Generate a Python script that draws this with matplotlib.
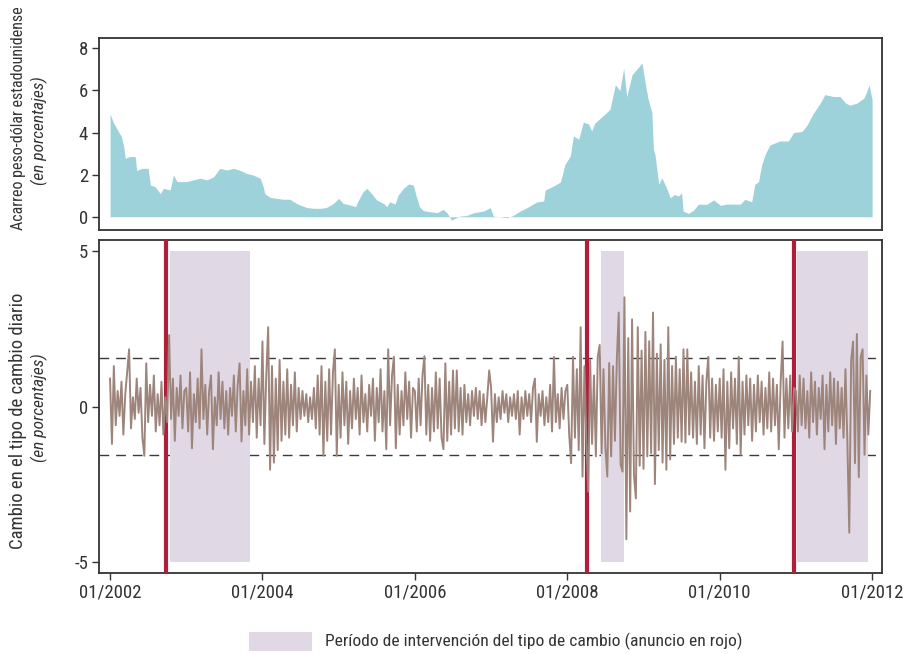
import matplotlib
matplotlib.use("Agg")
import matplotlib.pyplot as plt
import numpy as np
from matplotlib.patches import Rectangle
from matplotlib import font_manager

# fuente estrecha si existe alguna instalada
_fuentes = font_manager.fontManager.ttflist
_nombres = {f.name for f in _fuentes}
estrecha = None
for nombre in ['Liberation Sans Narrow', 'Roboto Condensed', 'Open Sans Condensed']:
    if nombre in _nombres:
        estrecha = (nombre, 'normal')
        break
if estrecha is None:
    for f in _fuentes:
        if f.name == 'DejaVu Sans' and f.stretch in ('condensed', 'semi-condensed', 575, 500):
            estrecha = ('DejaVu Sans', 'condensed')
            break
if estrecha is None:
    estrecha = ('Liberation Sans', 'normal')

plt.rcParams['font.family'] = [estrecha[0], 'DejaVu Sans']
plt.rcParams['font.stretch'] = estrecha[1]
plt.rcParams['axes.unicode_minus'] = False

# acarreo peso-dolar (fecha en anios decimales, valor en %)
acarreo_fecha = [2002.0, 2002.04, 2002.11, 2002.15, 2002.18, 2002.20, 2002.26, 2002.33, 2002.35, 2002.42,
                 2002.50, 2002.53, 2002.59, 2002.66, 2002.70, 2002.79, 2002.83, 2002.88, 2003.01, 2003.09,
                 2003.18, 2003.27, 2003.36, 2003.44, 2003.53, 2003.62, 2003.71, 2003.79, 2003.88, 2003.97,
                 2004.01, 2004.03, 2004.10, 2004.19, 2004.27, 2004.36, 2004.41, 2004.49, 2004.58, 2004.67,
                 2004.76, 2004.84, 2004.93, 2005.00, 2005.06, 2005.15, 2005.22, 2005.26, 2005.32, 2005.37,
                 2005.43, 2005.50, 2005.59, 2005.63, 2005.67, 2005.74, 2005.78, 2005.85, 2005.92, 2005.98,
                 2006.02, 2006.06, 2006.11, 2006.20, 2006.29, 2006.37, 2006.42, 2006.48, 2006.59, 2006.68,
                 2006.77, 2006.90, 2006.99, 2007.03, 2007.21, 2007.29, 2007.38, 2007.47, 2007.60, 2007.69,
                 2007.71, 2007.82, 2007.91, 2007.97, 2008.04, 2008.08, 2008.15, 2008.21, 2008.28, 2008.32,
                 2008.36, 2008.47, 2008.56, 2008.63, 2008.69, 2008.74, 2008.78, 2008.85, 2008.91, 2008.98,
                 2009.02, 2009.06, 2009.11, 2009.13, 2009.15, 2009.20, 2009.24, 2009.31, 2009.35, 2009.41,
                 2009.46, 2009.50, 2009.52, 2009.59, 2009.66, 2009.72, 2009.83, 2009.92, 2010.01, 2010.09,
                 2010.18, 2010.27, 2010.33, 2010.42, 2010.46, 2010.51, 2010.55, 2010.60, 2010.66, 2010.79,
                 2010.90, 2010.97, 2011.08, 2011.14, 2011.23, 2011.32, 2011.38, 2011.49, 2011.58, 2011.65,
                 2011.71, 2011.80, 2011.89, 2011.93, 2011.96, 2012.0]
acarreo = [4.9, 4.5, 4.05, 3.8, 3.33, 2.78, 2.86, 2.86, 2.2, 2.3,
           2.3, 1.5, 1.43, 1.1, 1.35, 1.27, 1.98, 1.67, 1.67, 1.75,
           1.83, 1.75, 1.9, 2.3, 2.22, 2.3, 2.2, 2.06, 1.98, 1.83,
           1.43, 1.1, 0.92, 0.87, 0.83, 0.83, 0.71, 0.56, 0.44, 0.40,
           0.40, 0.44, 0.63, 0.87, 0.63, 0.56, 0.48, 0.79, 1.19, 1.35,
           1.11, 0.79, 0.63, 0.48, 0.71, 0.60, 1.03, 1.35, 1.56, 1.5,
           0.95, 0.48, 0.29, 0.24, 0.19, 0.35, 0.2, -0.16, 0.03, 0.06,
           0.19, 0.27, 0.43, 0.03, -0.05, 0.06, 0.27, 0.43, 0.7, 0.75,
           1.27, 1.46, 1.65, 2.49, 2.89, 3.84, 3.68, 4.5, 4.4, 4.08,
           4.44, 4.8, 5.1, 6.27, 6.0, 7.06, 5.7, 6.75, 7.0, 7.3,
           6.4, 5.6, 4.95, 3.2, 2.97, 1.54, 1.86, 1.3, 0.9, 1.06,
           0.98, 1.14, 0.27, 0.16, 0.32, 0.6, 0.59, 0.8, 0.54, 0.6,
           0.6, 0.6, 0.83, 0.71, 1.54, 1.67, 2.46, 3.0, 3.41, 3.6,
           3.6, 4.0, 4.05, 4.32, 4.92, 5.4, 5.8, 5.71, 5.71, 5.4,
           5.3, 5.4, 5.63, 5.95, 6.27, 5.56]

# cambio diario del tipo de cambio (%), 40 observaciones por anio, 2002-2011
cambio = [
    # 2002
    0.9, -1.2, 1.3, -0.6, 0.5, -0.3, 0.8, -0.9, 0.4, 1.1, 1.84, -0.7, 0.3, -0.4, 0.9, -0.2, 0.6, -1.0, -1.58, 1.39,
    -0.5, 0.7, -0.3, 1.0, -0.8, 0.4, -0.6, 0.8, -0.9, 0.3, -0.5, 2.3, -0.4, 0.9, -1.1, 0.6, -0.3, 1.0, -0.7, 0.5,
    # 2003
    0.6, -0.8, 1.1, -1.34, 0.4, -0.5, 0.9, -0.7, 1.84, -0.4, 0.7, -0.9, 0.5, 1.0, -1.37, 0.3, -0.6, 1.1, -0.4, 0.8,
    -0.7, 0.5, -0.9, 0.6, -0.3, 1.0, -0.8, 0.7, 1.39, -1.12, 0.5, -0.6, 1.2, -0.9, 0.8, -0.5, 1.3, -1.0, 0.9, -0.6,
    # 2004
    2.09, -1.2, 1.0, 2.55, -2.03, 1.3, -1.8, 0.9, -1.4, 1.5, -1.1, 0.8, -0.9, 1.2, -1.0, 0.7, -0.6, 1.1, -0.8, 0.6,
    -0.4, 0.5, -0.3, 0.4, -0.5, 0.3, -0.4, 0.6, -0.7, 1.0, -0.9, 1.3, -1.58, 0.8, -1.1, 1.2, -0.9, 1.1, 1.84, -1.58,
    # 2005
    0.7, -1.0, 1.1, -0.6, 0.8, -1.2, 0.5, -0.7, 0.9, -0.4, 0.6, -0.9, 1.0, -0.5, 0.4, -0.8, 0.7, -0.3, 0.9, -1.1,
    0.6, -0.5, 1.2, -0.8, 0.5, -1.37, 1.84, -0.6, 1.0, 1.6, -1.34, 0.7, -0.9, 0.5, -0.6, 1.1, -0.4, 0.8, -1.0, 0.6,
    # 2006
    0.5, -0.8, 0.9, -0.6, 1.0, 1.62, -0.9, 0.7, -1.1, 0.6, -0.8, 1.1, -0.7, 0.9, -1.0, -1.37, 1.39, -1.1, 0.8, -0.9,
    1.16, -0.7, 1.16, -0.8, 0.6, -0.9, 0.7, -0.5, 0.4, -0.6, 0.5, -0.3, 0.6, -0.4, 0.5, -0.6, 0.4, -0.5, 0.3, 1.16,
    # 2007
    0.6, -1.13, 0.4, -0.5, 0.3, -0.4, 0.5, -0.2, 0.4, -0.5, 0.3, -0.3, 0.4, -0.4, 0.5, -0.9, 0.3, -0.4, 0.5, -0.3,
    0.4, -0.5, 0.6, 0.9, -1.13, 0.4, -0.3, 0.5, -0.6, 0.3, -0.5, 0.7, -0.8, 1.6, -0.5, 0.4, -0.7, 0.6, -0.4, 0.5,
    # 2008
    0.7, -0.9, -1.82, 1.6, -1.0, 1.2, -1.4, 2.55, -2.25, 1.3, -1.1, -2.73, 1.5, -1.2, 1.0, -1.6, 1.6, 1.98, -1.5, 1.2,
    -1.3, -2.25, 1.4, -1.6, 1.3, -1.1, 1.5, 3.02, -1.87, -2.09, 3.51, -4.26, 2.2, -3.37, 2.8, -2.2, -2.95, 2.55, -1.9, 1.8,
    # 2009
    -2.0, 2.4, -1.6, 2.1, -1.5, 3.02, -2.49, 1.7, -1.4, 2.0, -1.8, 1.5, -2.03, 2.55, -1.7, 1.3, -1.2, 1.6, -1.0, 1.2,
    -1.13, 1.84, -1.16, 1.84, -0.9, 1.1, -1.0, 0.8, -1.2, 1.3, -0.9, 1.0, -1.34, 0.8, 1.6, -1.0, 0.9, -1.1, 0.7, -0.8,
    # 2010
    0.9, -1.0, 1.2, -2.03, 0.8, -1.34, 1.1, -0.7, 0.9, -1.2, 1.6, -1.55, 0.8, -0.9, 1.0, -0.6, 0.9, -1.1, 0.7, -0.8,
    1.0, -0.5, 0.8, -0.9, 0.6, -0.7, 1.1, -0.8, 0.9, -0.6, 0.7, -1.37, 0.8, 2.09, -1.0, 0.9, -0.7, 1.0, -0.8, 0.6,
    # 2011
    0.5, -0.8, 1.0, -0.6, 0.9, -0.7, 0.5, -1.0, 1.1, -0.5, 0.8, -0.9, 0.6, -0.4, 1.0, -1.37, 0.7, -0.8, 1.1, -0.6,
    0.9, -1.2, 0.8, -0.7, 0.6, -1.0, 1.2, -1.1, -4.05, 1.5, 2.09, -1.82, 2.33, -2.27, 1.6, 1.84, -1.55, 1.0, -0.9, 0.5,
]

# periodos de intervencion y fechas de anuncio
intervencion = [(2002.79, 2003.84), (2008.44, 2008.74), (2011.02, 2011.95)]
anuncios = [2002.74, 2008.26, 2010.97]
umbral = 1.55

anios = [2002, 2004, 2006, 2008, 2010, 2012]
etiquetas = ['01/%d' % a for a in anios]

fecha_cambio = 2002 + np.arange(len(cambio)) / 40.0

fig = plt.figure(figsize=(9.04, 6.54), dpi=100)
ax1 = fig.add_axes([0.1095, 0.6483, 0.8662, 0.2936])
ax2 = fig.add_axes([0.1095, 0.1246, 0.8662, 0.5084])

xlim = (2001.855, 2012.13)
spine_col = '#333333'
texto_col = '#333333'

# panel superior: acarreo
ax1.fill_between(acarreo_fecha, acarreo, 0, color='#9dd2db', linewidth=0)
ax1.set_xlim(*xlim)
ax1.set_ylim(-0.63, 8.49)
ax1.set_yticks([0, 2, 4, 6, 8])
ax1.set_xticks([])

# panel inferior: cambio diario
for s in (umbral, -umbral):
    ax2.axhline(s, color='#3a3a3a', linewidth=1.0, dashes=(7, 5), zorder=1)
for x0, x1 in intervencion:
    ax2.add_patch(Rectangle((x0, -5), x1 - x0, 10, facecolor='#e0d8e5', edgecolor='none', zorder=2))
for a in anuncios:
    ax2.axvline(a, color='#b01e3c', linewidth=3.0, zorder=3)
ax2.plot(fecha_cambio, cambio, color='#9e857c', linewidth=1.4, zorder=4)
ax2.set_xlim(*xlim)
ax2.set_ylim(-5.33, 5.35)
ax2.set_yticks([-5, 0, 5])
ax2.set_xticks(anios)
ax2.set_xticklabels(etiquetas)

for ax in (ax1, ax2):
    for sp in ax.spines.values():
        sp.set_color(spine_col)
        sp.set_linewidth(1.3)
    ax.tick_params(direction='out', length=5, width=1.0, color=spine_col,
                   labelsize=13.5, labelcolor=texto_col, pad=3)

# titulos de los ejes
fig.text(0.020, 0.820, 'Acarreo peso-dólar estadounidense', rotation=90,
         ha='center', va='center', fontsize=11.5, color=texto_col)
fig.text(0.044, 0.800, '(en porcentajes)', rotation=90, style='italic',
         ha='center', va='center', fontsize=12.5, color=texto_col)
fig.text(0.020, 0.357, 'Cambio en el tipo de cambio diario', rotation=90,
         ha='center', va='center', fontsize=13.5, color=texto_col)
fig.text(0.044, 0.376, '(en porcentajes)', rotation=90, style='italic',
         ha='center', va='center', fontsize=12.5, color=texto_col)

# leyenda
fig.add_artist(Rectangle((249 / 904, 1 - 651 / 654), 63 / 904, 19 / 654,
                         transform=fig.transFigure, facecolor='#e0d8e5', edgecolor='none'))
fig.text(325 / 904, 1 - 641 / 654, 'Período de intervención del tipo de cambio (anuncio en rojo)',
         ha='left', va='center', fontsize=12.6, color=texto_col)

fig.savefig('out.png', dpi=100)
